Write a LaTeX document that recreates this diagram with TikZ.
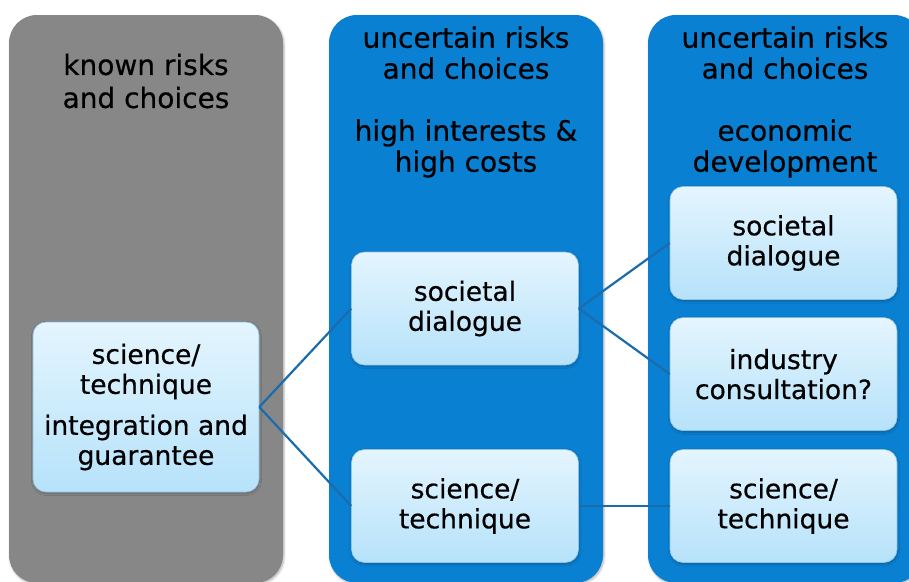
\documentclass[tikz,border=0pt]{standalone}
\usepackage{fontspec}
\setmainfont{DejaVu Sans}[BoldFont={DejaVu Sans},BoldFeatures={FakeBold=0.5}]
\usetikzlibrary{positioning,shadows.blur}
\definecolor{slate}{HTML}{878787}
\definecolor{ocean}{HTML}{0A80D2}
\definecolor{paletop}{HTML}{E4F5FE}
\definecolor{palebot}{HTML}{B6E2FA}
\definecolor{paleedge}{HTML}{8FC3E2}
\definecolor{wire}{HTML}{1B6CAD}
\tikzset{
  lane/.style={rounded corners=28pt,minimum width=274pt,minimum height=568pt,inner sep=0pt,
               blur shadow={shadow blur steps=5,shadow xshift=1pt,shadow yshift=-1.5pt,
                            shadow opacity=30}},
  known/.style={lane,fill=slate},
  uncertain/.style={lane,fill=ocean},
  head/.style={align=center,inner sep=0pt,font=\fontsize{28}{31}\selectfont\bfseries},
  card/.style={draw=paleedge,line width=.6pt,rounded corners=13pt,
               top color=paletop,bottom color=palebot,
               minimum width=227pt,minimum height=113pt,align=center,inner sep=0pt,
               font=\fontsize{26.5}{30}\selectfont\bfseries,
               blur shadow={shadow blur steps=4,shadow xshift=.5pt,shadow yshift=-1.5pt,
                            shadow opacity=25}},
  wire/.style={draw=wire,line width=2.2pt}
}
\begin{document}
\begin{tikzpicture}[x=1pt,y=-1pt,node distance=17.5pt]
  \useasboundingbox (0,0) rectangle (909,581);
  % the three lanes
  \node[known] (laneknown) at (146,299) {};
  \node[uncertain] (lanecost) at (466,299) {};
  \node[uncertain] (laneecon) at (785,299) {};
  \node[head,font=\fontsize{28}{33}\selectfont\bfseries] (headknown) at (146,81) {known risks\\and choices};
  \node[head] (headcost) at (466,102) {uncertain risks\\and choices\\[31pt]high interests \&\\high costs};
  \node[head] (headecon) at (785,102) {uncertain risks\\and choices\\[31pt]economic\\development};
  % cards
  \node[card,minimum height=170pt,minimum width=226pt] (base) at (146,407)
    {science/\\technique\\[11pt]integration and\\guarantee};
  \node[card] (costdia) at (465,308.5) {societal\\dialogue};
  \node[card] (costsci) at (465,506) {science/\\technique};
  \node[card] (econdia) at (783.5,243) {societal\\dialogue};
  \node[card,below=of econdia] (econind) {industry\\consultation?};
  \node[card] (econsci) at (econind|-costsci) {science/\\technique};
  % links
  \draw[wire] (base.east) -- (costdia.west);
  \draw[wire] (base.east) -- (costsci.west);
  \draw[wire] (costdia.east) -- (econdia.west);
  \draw[wire] (costdia.east) -- (econind.west);
  \draw[wire] (costsci.east) -- (econsci.west);
\end{tikzpicture}
\end{document}
